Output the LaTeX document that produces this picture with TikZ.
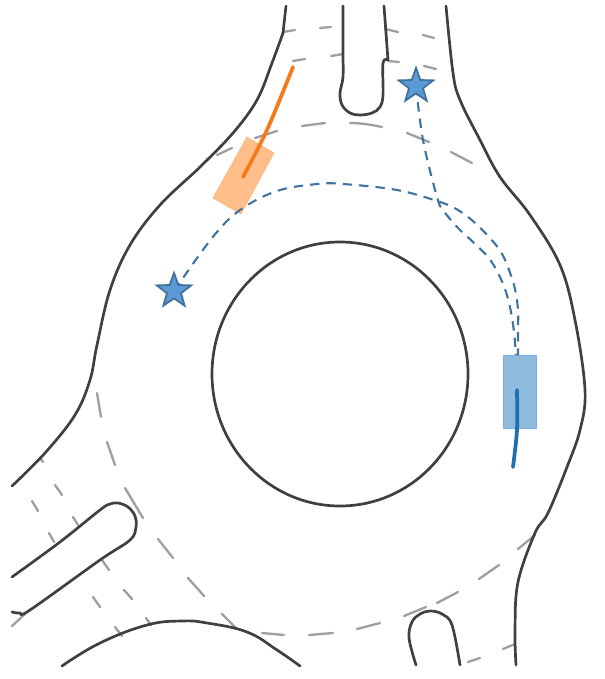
\documentclass[tikz,border=0pt]{standalone}
\usetikzlibrary{shapes.geometric}
\definecolor{road}{HTML}{404040}
\definecolor{lane}{HTML}{A0A0A0}
\definecolor{routeblue}{HTML}{3F73A0}
\definecolor{starfill}{HTML}{5B9BD5}
\definecolor{starline}{HTML}{41719C}
\definecolor{carblue}{HTML}{8FBBDC}
\definecolor{carorange}{HTML}{FFBE8A}
\definecolor{trackorange}{HTML}{F47B1A}
\definecolor{trackblue}{HTML}{1F6FB4}
\tikzset{
  roadline/.style={draw=road,line width=2.3pt,line join=round,line cap=round},
  laneline/.style={draw=lane,line width=2pt,line cap=round},
  routeline/.style={draw=routeblue,line width=1.8pt,dash pattern=on 8pt off 6pt},
  goalstar/.style={star,star points=5,star point ratio=2.45,minimum size=31pt,inner sep=0pt,fill=starfill,draw=starline,line width=1.5pt},
  track/.style={line width=3.2pt,line cap=round},
}
\begin{document}
\begin{tikzpicture}[x=0.03cm,y=-0.03cm]
\useasboundingbox (0,0) rectangle (604,679);
% lane markings
\foreach \xa/\ya/\xb/\yb in {
 283/32/295/30, 320/28/331/27, 385/29/398/32, 423/35/434/38,
 293/61/305/59, 331/56/343/54, 388/61/399/62, 424/66/436/69,
 217/155/232/148, 255/138/277/131, 302/126/325/123, 407/133/429/142, 451/152/472/163,
 97/393/101/417, 107/442/115/465, 125/488/143/518, 158/539/173/558, 188/578/204/596,
 222/614/237/629, 262/633/284/635, 309/635/333/633, 357/629/380/623,
 40/458/43/462, 55/485/62/495, 32/501/38/511, 73/517/78/525, 49/533/54/542,
 102/560/109/570, 124/590/132/599, 93/597/100/607, 146/618/151/625, 115/627/122/636,
 12/626/25/614,
 404/616/426/607, 437/603/458/592, 479/579/499/565, 518/549/535/535,
 468/662/480/658, 503/649/515/644}
 {\draw[laneline] (\xa,\ya) -- (\xb,\yb);}
\draw[laneline] (350,123) .. controls (362,123) and (372,125) .. (382,127);
% road edges
\draw[roadline] plot[smooth,tension=0.6] coordinates {(286,6) (283,33)};
\draw[roadline] plot[smooth,tension=0.6] coordinates {(283,33) (272,63) (257,100) (233,133) (200,167) (160,205) (130,245) (110,290) (97,345) (90,380) (75,415) (45,453) (12,486)};
\draw[roadline] plot[smooth,tension=0.6] coordinates {(446,6) (453,73) (460,100) (480,140) (500,177) (530,215) (560,265) (575,320) (585,390) (580,430) (567,467) (548,513) (535,533) (518,582) (515,630) (516,665)};
\draw[roadline] plot[smooth,tension=0.6] coordinates {(343,6) (343,53) (343,77) (340,93) (342,105) (350,113) (360,115) (372,113) (380,107) (383,95) (383,63) (388,60)};
\draw[roadline] (388,60) -- (384,6);
\draw[roadline] plot[smooth,tension=0.6] coordinates {(12,577) (60,542) (100,510) (110,504) (118,503) (128,507) (135,516) (136,527) (130,540) (100,560) (30,610) (20,613) (12,612)};
\draw[roadline] plot[smooth,tension=0.7] coordinates {(62,666) (100,643) (147,625) (182,621) (207,623) (247,632) (277,650) (300,666)};
\draw[roadline] plot[smooth,tension=0.6] coordinates {(416,665) (409,638) (412,622) (420,614) (430,611) (442,614) (452,625) (460,665)};
\node[roadline,ellipse,minimum width=128*2*0.03cm,minimum height=132*2*0.03cm,inner sep=0pt] (island) at (340,374) {};
% vehicles
\coordinate (oa) at (247,137); \coordinate (ob) at (274,153); \coordinate (oc) at (241,214); \coordinate (od) at (213,198);
\fill[carorange,draw=carorange!90!orange,line width=0.6pt] (oa) -- (ob) -- (oc) -- (od) -- cycle;
\draw[track,draw=trackorange] plot[smooth] coordinates {(293,67) (267,130) (243,177)};
\node[fill=carblue,draw=carblue!90!blue,line width=0.6pt,minimum width=33*0.03cm,minimum height=73*0.03cm,inner sep=0pt] (bluecar) at (519.5,391.5) {};
\draw[track,draw=trackblue] plot[smooth] coordinates {(517,390) (517,430) (513,467)};
\coordinate (stara) at (416,86);
\coordinate (starb) at (174,291);
\coordinate (ca) at (518,355);
\coordinate (cb) at (516,355);
% routes
\draw[routeline] plot[smooth,tension=0.6] coordinates {(starb) (212,238) (240,210) (277,191) (317,184) (343,184) (397,190) (440,202) (458,210) (474,222) (489,237) (501,252) (509,270) (515,289) (518,310) (518,330) (ca)};
\draw[routeline] plot[smooth,tension=0.6] coordinates {(stara) (423,140) (437,197) (443,210) (458,228) (473,242) (488,257) (498,273) (506,292) (511,312) (514,332) (cb)};
% goals
\node[goalstar] (nodea) at (stara) {};
\node[goalstar] (nodeb) at (starb) {};
\end{tikzpicture}
\end{document}
